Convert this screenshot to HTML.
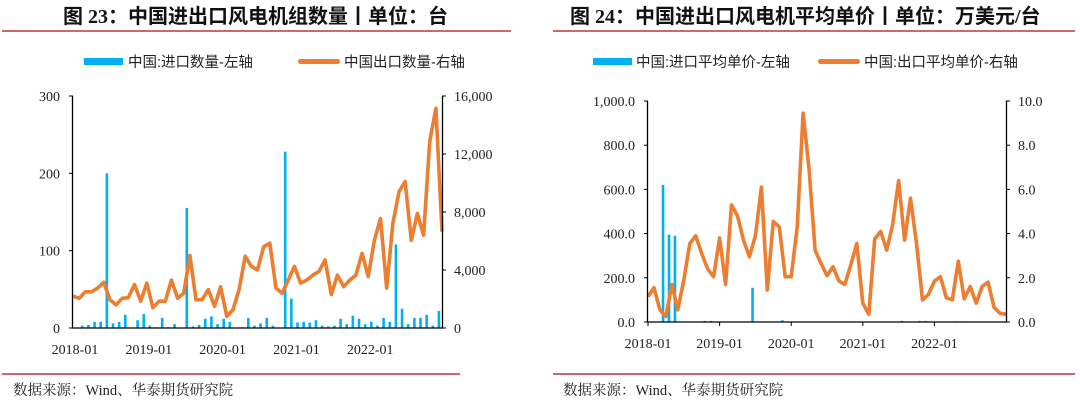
<!DOCTYPE html>
<html><head><meta charset="utf-8"><style>
body{margin:0;background:#fff;width:1080px;height:402px;overflow:hidden;font-family:"Liberation Serif","Noto Serif CJK SC",serif}
svg text{font-family:"Liberation Serif","Noto Serif CJK SC",serif}
svg text.sans{font-family:"Liberation Sans","Noto Sans CJK SC",sans-serif}
svg text.ttl{font-family:"Liberation Serif","Noto Sans CJK SC",sans-serif}
</style></head><body>
<svg id="s" width="1080" height="402" xmlns="http://www.w3.org/2000/svg">
<g>
<text class="ttl" x="63" y="23" font-size="20" font-weight="bold" fill="#111">图  23：中国进出口风电机组数量丨单位：台</text>
<rect x="2" y="30" width="509" height="2" fill="#c0504d" opacity="0.85"/>
<rect x="84" y="58" width="39" height="7" fill="#00b0f0"/>
<text class="sans" x="128" y="67" font-size="14.5" fill="#222">中国:进口数量-左轴</text>
<rect x="298" y="59" width="42" height="5" rx="2.5" fill="#ed7d31"/>
<text class="sans" x="344" y="67" font-size="14.5" fill="#222">中国出口数量-右轴</text>
<rect x="2" y="373" width="458" height="2" fill="#c0504d" opacity="0.85"/>
<text x="13" y="395" font-size="14.5" fill="#222">数据来源：Wind、华泰期货研究院</text>
</g>
<g>
<text class="ttl" x="570" y="23" font-size="20" font-weight="bold" fill="#111">图  24：中国进出口风电机平均单价丨单位：万美元/台</text>
<rect x="553" y="30" width="522" height="2" fill="#c0504d" opacity="0.85"/>
<rect x="593" y="58" width="39" height="7" fill="#00b0f0"/>
<text class="sans" x="636" y="67" font-size="14.5" fill="#222">中国:进口平均单价-左轴</text>
<rect x="818" y="59" width="42" height="5" rx="2.5" fill="#ed7d31"/>
<text class="sans" x="864" y="67" font-size="14.5" fill="#222">中国:出口平均单价-右轴</text>
<rect x="553" y="373" width="522" height="2" fill="#c0504d" opacity="0.85"/>
<text x="563" y="395" font-size="14.5" fill="#222">数据来源：Wind、华泰期货研究院</text>
</g>
</svg>
<script>
const xLabels=["2018-01","2019-01","2020-01","2021-01","2022-01"];
const leftTicks=[0,100,200,300];
const leftRightTicks=[0,4000,8000,12000,16000];
const importQty=[0,3,4,8,8,200,6,8,17,0,10,18,3,1,13,1,5,0,155,2,4,12,15,5,12,8,0,1,13,3,6,13,3,0,228,38,7,8,7,10,3,2,3,12,5,16,12,5,8,3,13,8,108,25,5,13,13,17,3,22,0];
const exportQty=[2200,2050,2500,2500,2750,3150,1950,1600,2050,2100,3000,1850,3100,1400,1850,1850,3300,2050,2400,5000,1950,1950,2650,1500,2850,800,1250,2650,4950,4250,4000,5600,5850,2750,2400,3300,4250,3100,3300,3650,3900,4700,2300,3650,2850,3300,3650,5150,3550,6050,7550,2750,7200,9400,10100,6050,7900,6400,12850,15150,6650];
const rightTicksL=[0,200,400,600,800,1000];
const rightTicksR=[0,2,4,6,8,10];
const importPrice=[0,0,620,395,390,0,0,0,0,5,5,0,0,0,0,0,0,155,0,0,0,0,8,0,0,0,0,0,0,0,0,0,0,3,0,0,0,0,0,0,0,0,5,0,0,5,5,0,0,0,0,3,3,0,0,0,0,0,0,0,0];
const exportPrice=[1.15,1.55,0.55,0.25,1.7,0.55,1.9,3.55,3.9,3.1,2.4,2.05,3.8,1.7,5.3,4.8,3.7,2.95,3.9,6.1,1.45,4.55,4.3,2.05,2.05,4.3,9.45,6.9,3.25,2.65,2.1,2.5,1.85,1.7,2.6,3.55,0.85,0.35,3.75,4.1,3.25,4.4,6.4,3.7,5.6,3.55,1.0,1.25,1.85,2.05,1.1,1.0,2.75,1.05,1.6,0.85,1.6,1.8,0.65,0.4,0.35];
const NS="http://www.w3.org/2000/svg",svg=document.getElementById('s');
function mk(t,a,p){const e=document.createElementNS(NS,t);for(const k in a)e.setAttribute(k,a[k]);(p||svg).appendChild(e);return e;}
function fmt(v,d){return v.toLocaleString('en-US',{minimumFractionDigits:d,maximumFractionDigits:d});}
function chart(o){
 const n=o.bars.length,step=(o.x1-o.x0)/(n-1);
 const xs=i=>o.x0+i*step;
 const yl=v=>o.yb-(v/o.lMax)*(o.yb-o.yt);
 const yr=v=>o.yb-(v/o.rMax)*(o.yb-o.yt);
 const g=mk('g',{});
 
 
 o.bars.forEach((v,i)=>{if(v<=0)return;const r=mk('rect',{x:xs(i)+o.barOff-1.2,y:yl(v),width:2.6,height:o.yb-yl(v),fill:'#00b0f0'},g);
  
  });
 const pts=o.line.map((v,i)=>xs(i).toFixed(1)+','+yr(v).toFixed(1)).join(' ');
 const pl=mk('polyline',{points:pts,fill:'none',stroke:'#ed7d31','stroke-width':3.6,'stroke-linejoin':'round'},g);
 
 
 const ax=mk('path',{d:`M${o.x0-0.5} ${o.yt}V${o.yb}H${o.x1+0.5}V${o.yt}`,fill:'none',stroke:'#000','stroke-width':1.3},g);
 
 
 o.lt.forEach(v=>{mk('line',{x1:o.x0-4,x2:o.x0,y1:yl(v),y2:yl(v),stroke:'#000'},g);
  const t=mk('text',{x:o.x0-13,y:yl(v)+5,'font-size':14,'text-anchor':'end',fill:'#222'},g);t.textContent=fmt(v,o.ld);
  
  });
 o.rt.forEach(v=>{mk('line',{x1:o.x1,x2:o.x1+4,y1:yr(v),y2:yr(v),stroke:'#000'},g);
  const t=mk('text',{x:o.x1+o.rpad,y:yr(v)+5,'font-size':14,fill:'#222'},g);t.textContent=fmt(v,o.rd);
  
  });
 xLabels.forEach((l,k)=>{const x=xs(k*12);
  if(o.xt)mk('line',{x1:x,x2:x,y1:o.yb,y2:o.yb+4,stroke:'#000'},g);
  const t=mk('text',{x:x+o.lOff,y:o.yb+26,'font-size':14,'text-anchor':'middle',fill:'#222'},g);t.textContent=l;
  
  });
}
chart({name:'import-export-quantity-chart',x0:73,x1:442,yt:96,yb:328,lMax:300,rMax:16000,bars:importQty,line:exportQty,lt:leftTicks,rt:leftRightTicks,ld:0,rd:0,rpad:12,barOff:3,xt:false,lOff:2});
chart({name:'import-export-price-chart',x0:648,x1:1006,yt:101,yb:322,lMax:1000,rMax:10,bars:importPrice,line:exportPrice,lt:rightTicksL,rt:rightTicksR,ld:1,rd:1,rpad:12,barOff:3,xt:true,lOff:0});
</script>
</body></html>
